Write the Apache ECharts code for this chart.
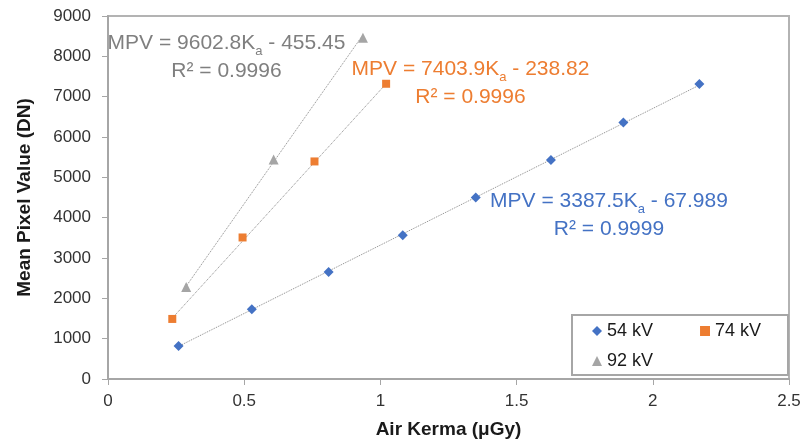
<!DOCTYPE html>
<html>
<head>
<meta charset="utf-8">
<script src="https://cdn.jsdelivr.net/npm/echarts@6/dist/echarts.min.js"></script>
<style>
html,body{margin:0;padding:0;background:#fff;}
#chart{width:804px;height:444px;}
</style>
</head>
<body>
<div id="chart"></div>
<script>
// ---- data ----
const seriesNames = ['54 kV', '74 kV', '92 kV'];
const kv54X = [0.259, 0.528, 0.810, 1.082, 1.350, 1.626, 1.892, 2.171];
const kv54Y = [819, 1730, 2655, 3566, 4501, 5427, 6362, 7313];
const kv74X = [0.236, 0.494, 0.758, 1.021];
const kv74Y = [1489, 3509, 5394, 7320];
const kv92X = [0.287, 0.608, 0.936];
const kv92Y = [2283, 5444, 8460];
// trendline equations as printed on the chart
const slopes = [3387.5, 7403.9, 9602.8];
const intercepts = [-67.989, -238.82, -455.45];
const rSquared = ['0.9999', '0.9996', '0.9996'];

const colors = ['#4472c4', '#ed7d31', '#a5a5a5'];
const textColors = ['#4472c4', '#ed7d31', '#7f7f7f'];
const symbols = ['diamond', 'rect', 'triangle'];
const symbolSizes = [10, 8, 10];
const FONT = '"Liberation Sans", Arial, sans-serif';

const xs = [kv54X, kv74X, kv92X];
const ys = [kv54Y, kv74Y, kv92Y];

function pairs(x, y) { return x.map((v, i) => [v, y[i]]); }
function trend(i) {
  const lo = Math.min(...xs[i]), hi = Math.max(...xs[i]);
  return [[lo, slopes[i] * lo + intercepts[i]], [hi, slopes[i] * hi + intercepts[i]]];
}

const series = [];
for (let i = 0; i < 3; i++) {
  series.push({
    name: seriesNames[i] + ' trend',
    type: 'line',
    data: trend(i),
    showSymbol: false,
    silent: true,
    lineStyle: { color: '#8a8a8a', width: 1, type: [1, 1] },
    z: 1
  });
}
for (let i = 0; i < 3; i++) {
  series.push({
    name: seriesNames[i],
    type: 'scatter',
    data: pairs(xs[i], ys[i]),
    symbol: symbols[i],
    symbolSize: symbolSizes[i],
    itemStyle: { color: colors[i], opacity: 1 },
    z: 3
  });
}

function eqText(i) {
  const s = slopes[i].toFixed(1);
  const b = Math.abs(intercepts[i]);
  return '{m|MPV = ' + s + 'K}{s|a}{m| - ' + b + '}\n{m|R² = ' + rSquared[i] + '}';
}
const eqPos = [[609, 215.5], [470.5, 83.5], [226.5, 57.5]];

const rich = {
  m: { fontSize: 21, lineHeight: 28, fontFamily: FONT },
  s: { fontSize: 13, lineHeight: 16, verticalAlign: 'bottom', fontFamily: FONT }
};

const graphics = [
  {
    type: 'rect', z: 5,
    shape: { x: 572, y: 315, width: 216, height: 60 },
    style: { fill: '#fff', stroke: '#a6a6a6', lineWidth: 2 }
  }
];
for (let i = 0; i < 3; i++) {
  graphics.push({
    type: 'text', z: 6,
    x: eqPos[i][0], y: eqPos[i][1],
    style: {
      text: eqText(i),
      fill: textColors[i],
      align: 'center',
      verticalAlign: 'middle',
      rich: Object.fromEntries(Object.entries(rich).map(([k, v]) => [k, Object.assign({ fill: textColors[i] }, v)]))
    }
  });
}

const legendCommon = {
  itemWidth: 10, itemHeight: 10,
  padding: 0,
  textStyle: { fontSize: 18, color: '#1a1a1a', fontFamily: FONT, lineHeight: 20 },
  z: 10,
  selectedMode: false
};

const chart = echarts.init(document.getElementById('chart'), null, { renderer: 'canvas' });
chart.setOption({
  animation: false,
  backgroundColor: '#fff',
  textStyle: { fontFamily: FONT },
  grid: {
    left: 108, right: 15, top: 16, bottom: 65,
    show: true, borderColor: '#b3b3b3', borderWidth: 2, backgroundColor: 'transparent'
  },
  xAxis: {
    type: 'value', min: 0, max: 2.5, interval: 0.5,
    name: 'Air Kerma (μGy)', nameLocation: 'middle', nameGap: 41,
    nameTextStyle: { fontSize: 19, fontWeight: 'bold', color: '#1a1a1a', fontFamily: FONT },
    axisLine: { show: true, lineStyle: { color: '#a6a6a6', width: 2 } },
    axisTick: { show: true, length: 6, lineStyle: { color: '#a6a6a6', width: 1 } },
    axisLabel: { fontSize: 17, color: '#333', margin: 14, fontFamily: FONT },
    splitLine: { show: false }
  },
  yAxis: {
    type: 'value', min: 0, max: 9000, interval: 1000,
    name: 'Mean Pixel Value (DN)', nameLocation: 'middle', nameGap: 74,
    nameTextStyle: { fontSize: 19, fontWeight: 'bold', color: '#1a1a1a', fontFamily: FONT },
    axisLine: { show: true, lineStyle: { color: '#a6a6a6', width: 2 } },
    axisTick: { show: true, length: 6, lineStyle: { color: '#a6a6a6', width: 1 } },
    axisLabel: { fontSize: 17, color: '#333', margin: 17, fontFamily: FONT, formatter: v => String(v) },
    splitLine: { show: false }
  },
  legend: [
    Object.assign({ data: [seriesNames[0], seriesNames[1]], left: 592, top: 321, itemGap: 47 }, legendCommon),
    Object.assign({ data: [seriesNames[2]], left: 592, top: 351 }, legendCommon)
  ],
  graphic: graphics,
  series: series
});
</script>
</body>
</html>
